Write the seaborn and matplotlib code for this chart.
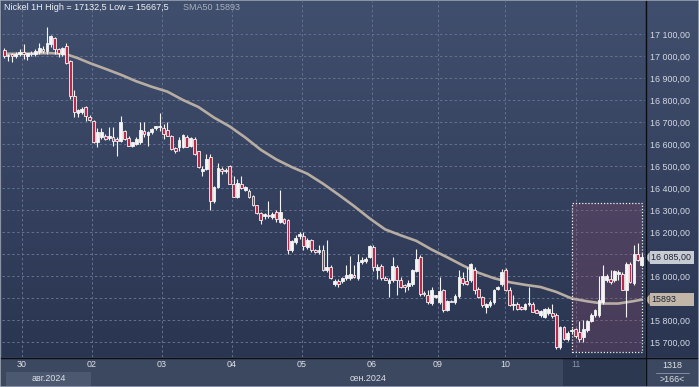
import numpy as np
import pandas as pd
import matplotlib
matplotlib.use("Agg")
import matplotlib.pyplot as plt
import seaborn as sns
from matplotlib.patches import Rectangle, Polygon
from matplotlib.colors import LinearSegmentedColormap
import matplotlib.transforms as mtransforms
from matplotlib.lines import Line2D

# ---------------- data (hourly candles) ----------------
opens = [17026, 16998, 17008, 17000, 17008, 17018, 17002, 17014, 17010, 17018,
         17032, 17023, 17055, 17080, 17031, 17010, 17046, 16978, 16819, 16739,
         16744, 16769, 16724, 16706, 16608, 16631, 16638, 16628, 16634, 16623,
         16615, 16661, 16627, 16592, 16600, 16607, 16660, 16640, 16653, 16672,
         16678, 16675, 16663, 16637, 16580, 16585, 16585, 16630, 16592, 16622,
         16566, 16476, 16486, 16539, 16343, 16406, 16486, 16476, 16499, 16418,
         16361, 16418, 16391, 16388, 16366, 16321, 16286, 16271, 16279, 16268,
         16291, 16245, 16257, 16253, 16120, 16155, 16180, 16180, 16132, 16165,
         16120, 16109, 16117, 16029, 16042, 15966, 15977, 15977, 15989, 15989,
         16004, 15989, 16064, 16067, 16087, 16132, 16026, 16044, 15991, 15968,
         15981, 16041, 15984, 15961, 15953, 15965, 16023, 16086, 15920, 15913,
         15878, 15905, 15882, 15935, 15845, 15887, 15882, 15908, 15993, 15976,
         15981, 16026, 15943, 15905, 15857, 15867, 15882, 15943, 15965, 16029,
         15935, 15867, 15872, 15857, 15852, 15872, 15872, 15845, 15822, 15814,
         15830, 15832, 15822, 15679, 15769, 15712, 15750, 15757, 15747, 15724,
         15754, 15796, 15822, 15822, 15882, 15984, 15988, 15984, 16011, 16011,
         15935, 16056, 15968, 16101, 16049]
highs = [17035, 17008, 17012, 17020, 17030, 17053, 17015, 17022, 17030, 17060,
         17046, 17132, 17095, 17088, 17035, 17040, 17061, 16980, 16845, 16760,
         16770, 16774, 16730, 16710, 16673, 16673, 16645, 16676, 16679, 16630,
         16729, 16665, 16637, 16610, 16630, 16698, 16702, 16660, 16675, 16683,
         16739, 16690, 16702, 16640, 16585, 16630, 16645, 16640, 16630, 16630,
         16570, 16502, 16554, 16554, 16411, 16512, 16494, 16490, 16505, 16456,
         16441, 16456, 16410, 16395, 16370, 16325, 16290, 16285, 16343, 16290,
         16300, 16389, 16265, 16258, 16165, 16185, 16200, 16200, 16175, 16170,
         16125, 16140, 16140, 16165, 16050, 15985, 15985, 15995, 16049, 16090,
         16049, 16099, 16085, 16085, 16140, 16140, 16056, 16056, 16000, 15990,
         16086, 16050, 15996, 15965, 15984, 16030, 16124, 16095, 15930, 15935,
         15950, 15915, 15996, 15940, 15890, 15890, 15920, 16029, 16018, 16041,
         16061, 16041, 15950, 15910, 15878, 15890, 15943, 15955, 16030, 16035,
         15950, 15913, 15882, 15862, 15878, 15950, 15880, 15850, 15845, 15855,
         15860, 15872, 15830, 15775, 15775, 15750, 15765, 15762, 15796, 15800,
         15800, 15830, 15850, 15999, 16048, 16011, 16029, 16026, 16026, 16020,
         16064, 16062, 16139, 16148, 16105]
lows = [16990, 16978, 16975, 16990, 17000, 16988, 16980, 16998, 17002, 17010,
        17015, 17010, 17040, 17010, 16995, 17000, 16965, 16805, 16721, 16725,
        16735, 16706, 16705, 16605, 16585, 16623, 16620, 16620, 16593, 16547,
        16610, 16620, 16590, 16585, 16595, 16600, 16630, 16592, 16645, 16663,
        16660, 16622, 16635, 16575, 16560, 16570, 16580, 16585, 16585, 16550,
        16490, 16456, 16480, 16298, 16330, 16400, 16464, 16470, 16418, 16358,
        16355, 16395, 16385, 16355, 16318, 16280, 16235, 16260, 16265, 16258,
        16245, 16240, 16235, 16102, 16110, 16145, 16170, 16117, 16125, 16110,
        16105, 16100, 16025, 16020, 15985, 15955, 15951, 15970, 15980, 15980,
        15990, 15982, 16055, 16060, 16080, 16025, 15988, 15981, 15980, 15905,
        15975, 15913, 15945, 15928, 15935, 15955, 16018, 15910, 15910, 15875,
        15870, 15900, 15875, 15837, 15840, 15880, 15875, 15900, 15960, 15960,
        15975, 15920, 15900, 15860, 15830, 15860, 15875, 15935, 15955, 15930,
        15865, 15845, 15845, 15845, 15845, 15865, 15835, 15830, 15815, 15808,
        15825, 15807, 15668, 15670, 15710, 15705, 15735, 15720, 15700, 15700,
        15745, 15790, 15815, 15815, 15875, 15975, 15965, 15975, 15984, 15935,
        15814, 15968, 15960, 16070, 16045]
closes = [17000, 17005, 17000, 17011, 17020, 17008, 17012, 17008, 17022, 17035,
          17022, 17061, 17091, 17031, 17014, 17035, 16970, 16819, 16744, 16754,
          16759, 16729, 16709, 16608, 16653, 16653, 16623, 16638, 16612, 16615,
          16701, 16623, 16592, 16607, 16622, 16663, 16645, 16653, 16668, 16680,
          16680, 16645, 16637, 16577, 16566, 16618, 16640, 16588, 16627, 16554,
          16494, 16486, 16532, 16343, 16406, 16491, 16476, 16482, 16420, 16361,
          16422, 16400, 16403, 16361, 16321, 16286, 16253, 16283, 16271, 16283,
          16260, 16291, 16241, 16117, 16159, 16174, 16193, 16135, 16165, 16117,
          16109, 16120, 16029, 16042, 15989, 15977, 15963, 15992, 16004, 16011,
          15995, 16064, 16075, 16079, 16135, 16040, 16041, 15993, 15984, 15984,
          16044, 15981, 15950, 15950, 15968, 16026, 16079, 15920, 15917, 15882,
          15938, 15913, 15931, 15845, 15885, 15884, 15908, 15996, 15968, 15965,
          16056, 15938, 15905, 15867, 15875, 15882, 15938, 15950, 16018, 15935,
          15867, 15875, 15852, 15850, 15872, 15878, 15837, 15832, 15842, 15849,
          15849, 15817, 15679, 15769, 15716, 15742, 15754, 15727, 15716, 15757,
          15796, 15822, 15845, 15890, 15999, 15999, 15973, 16021, 16018, 15938,
          16056, 15973, 16101, 16071, 16085]

# SMA50 read at selected candles
sma_idx = [0, 4, 8, 12, 16, 19, 22, 26, 30, 34, 38, 42, 46, 50, 54, 58, 62, 66,
           70, 74, 78, 82, 86, 90, 94, 98, 102, 106, 110, 114, 118, 122, 126,
           130, 134, 138, 142, 146, 150, 154, 158, 162, 164]
sma_val = [17010, 17010, 17012, 17013, 17008, 16990, 16968, 16942, 16915, 16885,
           16860, 16838, 16800, 16768, 16720, 16680, 16630, 16574, 16530, 16495,
           16465, 16420, 16370, 16318, 16262, 16212, 16185, 16160, 16120, 16085,
           16048, 16015, 15990, 15972, 15960, 15950, 15928, 15898, 15885, 15875,
           15875, 15886, 15893]

day_pos = [4.6, 22.6, 40.6, 58.6, 76.6, 94.6, 111.6, 128.8, 147.0]
day_labels = ["30", "02", "03", "04", "05", "06", "09", "10", "11"]
y_ticks = list(range(15700, 17101, 100))
hidden_ticks = [16100, 15900]   # covered by the price tags in the reference
last_price = 16085
sma_last = 15893
title_main = "Nickel 1H High = 17132,5 Low = 15667,5"
title_sma = "SMA50 15893"
month_labels = ["авг.2024", "сен.2024"]

df = pd.DataFrame({"open": opens, "high": highs, "low": lows, "close": closes})
df["idx"] = np.arange(len(df))
sma_df = pd.DataFrame({"idx": sma_idx, "sma": sma_val})

# ---------------- styling ----------------
sns.set_theme(style="dark")
plt.rcParams["font.family"] = ["Liberation Sans", "DejaVu Sans"]

W, H = 699, 387
fig = plt.figure(figsize=(W / 100, H / 100), dpi=100)
fig.patch.set_facecolor("#3c4860")

def fx(x):
    return x / W

def fy(y):
    return 1 - y / H

def fmt(v):
    return f"{v:,.2f}".replace(",", " ").replace(".", ",")

bg_cmap = LinearSegmentedColormap.from_list("bg", ["#2a3551", "#414f6e"])
grad = np.linspace(0, 1, 256).reshape(-1, 1)

xlo, xhi = -0.55, 164.85
ylo, yhi = 15632, 17250

# right price panel background
axr = fig.add_axes([fx(646), 1 - 357 / H, fx(W - 646), 357 / H - 1 / H])
axr.imshow(grad, extent=[0, 1, 0, 1], origin="lower", aspect="auto", cmap=bg_cmap)
axr.set_axis_off()
axr.set_zorder(0)

ax = fig.add_axes([fx(2), 1 - 357 / H, fx(645 - 2), 357 / H - 1 / H])
ax.set_zorder(1)
ax.imshow(grad, extent=[xlo, xhi, ylo, yhi], origin="lower", aspect="auto",
          cmap=bg_cmap, zorder=0)
ax.set_xlim(xlo, xhi)
ax.set_ylim(ylo, yhi)

# grid
for v in y_ticks:
    ax.axhline(v, color="#64728f", lw=0.7, ls=(0, (2.5, 2.5)), zorder=1)
for p in day_pos:
    ax.axvline(p, color="#64728f", lw=0.7, ls=(0, (2.5, 2.5)), zorder=1)

# highlight box on last day
ax.add_patch(Rectangle((146.1, 15655), 164.1 - 146.1, 16330 - 15655,
                       facecolor="#8a4a6a", alpha=0.30, edgecolor="none", zorder=1.5))
ax.add_patch(Rectangle((146.1, 15655), 164.1 - 146.1, 16330 - 15655,
                       facecolor="none", edgecolor="#f2f2f2", lw=0.9,
                       ls=(0, (1, 1.5)), zorder=6))

# SMA line
sns.lineplot(data=sma_df, x="idx", y="sma", ax=ax, color="#b8ada3", lw=1.9,
             zorder=2, legend=False)

# candles
up = df["close"] >= df["open"]
body_lo = np.minimum(df["open"], df["close"])
body_h = np.maximum(np.abs(df["close"] - df["open"]), 4)
ax.vlines(df["idx"], df["low"], df["high"], color="#f4f4f4", lw=0.8, zorder=3)
ax.bar(df["idx"], body_h, bottom=body_lo, width=0.72,
       color=np.where(up, "#f4f4f4", "#b8294a"), edgecolor="#f4f4f4",
       linewidth=0.6, zorder=4)

ax.set_xlabel("")
ax.set_ylabel("")
for s in ["top", "left", "right", "bottom"]:
    ax.spines[s].set_visible(False)

ax.yaxis.tick_right()
ax.set_yticks(y_ticks)
ax.set_yticklabels(["" if v in hidden_ticks else fmt(v) for v in y_ticks])
ax.tick_params(axis="y", length=0, pad=3.5, labelsize=6.4, labelcolor="#d4d9e3")
ax.set_xticks(day_pos)
ax.set_xticklabels(day_labels)
ax.tick_params(axis="x", length=0, pad=2.5, labelsize=6.4, labelcolor="#dde1e8")
ax.get_xticklabels()[-1].set_color("#8594ac")
ax.grid(False)

# price tags on the right axis
blend = mtransforms.blended_transform_factory(fig.transFigure, ax.transData)
for val, fc, txt in [(last_price, "#c7cbd3", fmt(last_price)),
                     (sma_last, "#c2b6a9", f"{sma_last}")]:
    ax.add_patch(Rectangle((fx(649.5), val - 29), fx(694) - fx(649.5), 58,
                           transform=blend, facecolor=fc, edgecolor="none",
                           clip_on=False, zorder=7))
    ax.add_patch(Polygon([(fx(645.5), val), (fx(649.6), val + 24), (fx(649.6), val - 24)],
                         closed=True, transform=blend, facecolor=fc,
                         edgecolor="none", clip_on=False, zorder=7))
    ax.text(fx(651), val, txt, transform=blend, ha="left", va="center",
            fontsize=6.4, color="#1d2433", zorder=8, clip_on=False)

# ---------------- figure-level decorations ----------------
fig.patches.append(Rectangle((fx(6), fy(386)), fx(91) - fx(6), fy(372) - fy(386),
                             transform=fig.transFigure, facecolor="#4c586f",
                             edgecolor="none", zorder=0))
fig.patches.append(Rectangle((fx(563), fy(386)), fx(645) - fx(563), fy(358) - fy(386),
                             transform=fig.transFigure, facecolor="#2c3750",
                             edgecolor="none", zorder=0))
fig.text(fx(48.5), fy(378.5), month_labels[0], ha="center", va="center",
         fontsize=6.4, color="#dde1e8")
fig.text(fx(368.5), fy(378.5), month_labels[1], ha="center", va="center",
         fontsize=6.4, color="#dde1e8")

# bottom-right counter cell
fig.text(fx(672), fy(366), "1318", ha="center", va="center", fontsize=6.4, color="#dde1e8")
fig.lines.append(Line2D([fx(656), fx(689)], [fy(373), fy(373)], transform=fig.transFigure,
                        color="#8a96aa", lw=0.6))
fig.text(fx(672), fy(380), ">166<", ha="center", va="center", fontsize=6.4, color="#dde1e8")

# black separators
fig.lines.append(Line2D([fx(645.5), fx(645.5)], [0, 1], transform=fig.transFigure,
                        color="#0a0d14", lw=1.0, zorder=10))
fig.lines.append(Line2D([0, 1], [fy(357.5), fy(357.5)], transform=fig.transFigure,
                        color="#0a0d14", lw=1.0, zorder=10))

# title
fig.text(fx(4), fy(8), title_main, ha="left", va="center", fontsize=6.5,
         color="#eef0f4", zorder=12)
fig.text(fx(183), fy(8), title_sma, ha="left", va="center", fontsize=6.5,
         color="#a9b0bc", zorder=12)

# outer border
fig.patches.append(Rectangle((0, 0), 1, 1, transform=fig.transFigure, fill=False,
                             edgecolor="#9aa3b3", lw=1.2, zorder=20))

fig.savefig("out.png", dpi=100, facecolor=fig.get_facecolor())
